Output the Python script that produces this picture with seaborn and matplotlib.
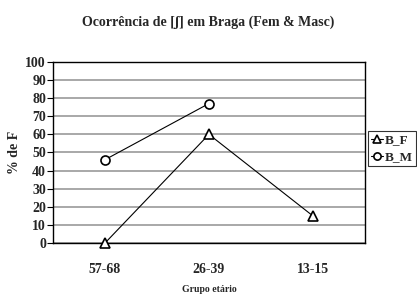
import pandas as pd
import matplotlib
matplotlib.use('Agg')
import matplotlib.pyplot as plt
import seaborn as sns

# dados
grupos = ["57-68", "26-39", "13-15"]
bf_vals = [0, 60, 15]
bm_vals = [46, 77, None]
yticks = list(range(0, 101, 10))

df = pd.DataFrame({
    "Grupo": grupos * 2,
    "Valor": bf_vals + bm_vals,
    "Serie": ["B_F"] * 3 + ["B_M"] * 3,
}).dropna()

sns.set_style("white")
plt.rcParams['font.family'] = ['Liberation Serif', 'DejaVu Serif']

fig = plt.figure(figsize=(4.17, 2.99), dpi=100)
ax = fig.add_axes([0.127, 0.187, 0.748, 0.606])

sns.lineplot(data=df, x="Grupo", y="Valor", hue="Serie", style="Serie",
             markers={"B_F": "^", "B_M": "o"}, dashes=False, sort=False,
             palette={"B_F": "black", "B_M": "black"}, linewidth=0.8,
             markersize=6.5, markerfacecolor="white", markeredgecolor="black",
             markeredgewidth=1.2, clip_on=False, zorder=5, ax=ax)

ax.set_xlim(-0.5, 2.5)
ax.set_ylim(0, 100)
ax.set_yticks(yticks)
ax.set_yticklabels([str(v) for v in yticks], fontsize=10, fontweight='bold')
ax.set_xticks(range(len(grupos)))
ax.set_xticklabels(grupos, fontsize=10, fontweight='bold')
ax.set_xticks([0.5, 1.5], minor=True)
ax.tick_params(axis='x', which='major', length=0, pad=14)
ax.tick_params(axis='x', which='minor', length=4, width=0.8, color='black', direction='out')
ax.tick_params(axis='y', length=4, width=0.8, color='black', direction='out', pad=1, left=True)
ax.yaxis.grid(True, color="#a8a8a8", linewidth=1.4)
ax.set_axisbelow(True)
for s in ax.spines.values():
    s.set_color("black")
    s.set_linewidth(1.0)

ax.set_xlabel("Grupo etário", fontsize=7, fontweight='bold', labelpad=7)
ax.set_ylabel("% de F", fontsize=10, fontweight='bold', labelpad=3)
fig.text(0.5, 0.925, "Ocorrência de [ʃ] em Braga (Fem & Masc)", ha='center', va='center',
         fontsize=10, fontweight='bold', family=['Liberation Serif', 'DejaVu Serif'])

leg = ax.legend(loc='upper left', bbox_to_anchor=(1.01, 0.62), borderaxespad=0,
                frameon=True, fancybox=False, handlelength=0.9, handletextpad=0.15,
                borderpad=0.25, labelspacing=0.35, markerscale=0.8,
                prop={'size': 9.5, 'weight': 'bold'})
leg.get_frame().set_edgecolor("black")
leg.get_frame().set_linewidth(0.8)

fig.savefig("out.png", dpi=100)
